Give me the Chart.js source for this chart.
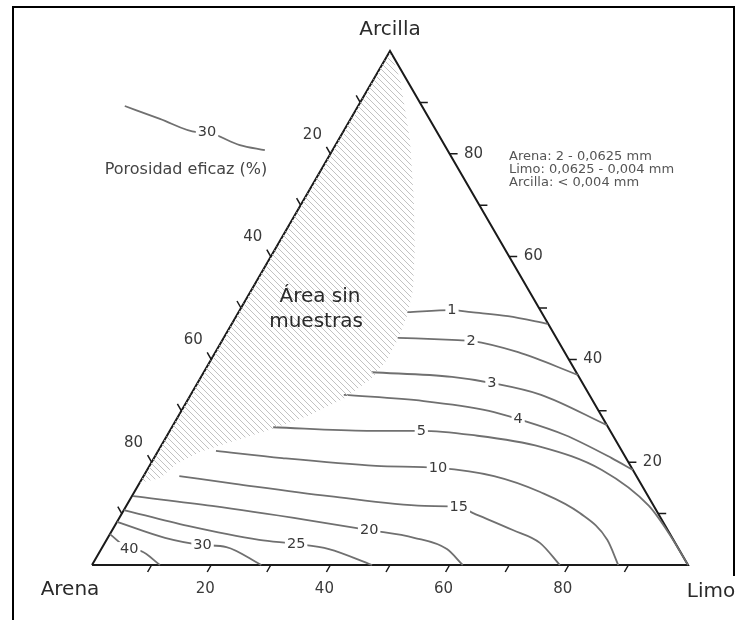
<!DOCTYPE html>
<html>
<head>
<meta charset="utf-8">
<script src="https://cdn.jsdelivr.net/npm/chart.js@4.4.0/dist/chart.umd.min.js"></script>
<style>
  body { margin: 0; background: #fff; }
  canvas { display: block; }
</style>
</head>
<body>
<canvas id="grafico" width="738" height="620"></canvas>
<script>
// puntos de cada isolinea en % [limo, arcilla] (arena = 100 - limo - arcilla)
const niveles = [1, 2, 3, 4, 5, 10, 15, 20, 25, 30, 40]
const curva1 = [[28.3, 49.2], [35.6, 49.6], [39.0, 49.2], [45.6, 48.4], [53.0, 46.9]]
const curva2 = [[29.2, 44.2], [38.5, 43.8], [41.8, 43.6], [50.8, 41.4], [63.0, 37.0]]
const curva3 = [[28.2, 37.5], [42.1, 36.6], [49.4, 35.4], [58.8, 33.1], [72.8, 27.2]]
const curva4 = [[25.7, 33.1], [39.7, 31.9], [51.6, 30.0], [57.3, 28.4], [66.7, 25.3], [76.8, 20.8], [81.5, 18.5]]
const curva5 = [[17.0, 26.8], [33.1, 26.1], [42.2, 26.1], [51.0, 25.3], [63.8, 23.0], [76.3, 18.5], [87.7, 11.5], [94.1, 5.8], [100, 0]]
const curva10 = [[9.7, 22.2], [21.5, 20.8], [38.0, 19.3], [48.6, 18.9], [58.8, 17.3], [68.1, 14.2], [76.8, 10.1], [84.0, 4.9], [88.3, 0]]
const curva15 = [[6.0, 17.3], [16.1, 15.8], [33.1, 13.4], [50.0, 11.5], [55.9, 11.3], [58.9, 10.1], [67.2, 6.8], [73.0, 4.3], [78.5, 0]]
const curva20 = [[0.2, 13.4], [14.4, 11.5], [31.5, 8.8], [43.1, 6.8], [51.4, 5.3], [58.0, 3.1], [62.2, 0]]
const curva25 = [[0, 10.7], [12.3, 7.6], [25.6, 4.9], [32.2, 4.1], [38.2, 3.1], [47.0, 0]]
const curva30 = [[0, 8.4], [9.6, 5.3], [16.6, 3.9], [20.8, 3.5], [28.4, 0]]
const curva40 = [[0, 6.0], [4.7, 3.1], [6.9, 2.7], [11.4, 0]]
const curvas = [curva1, curva2, curva3, curva4, curva5, curva10, curva15, curva20, curva25, curva30, curva40]
const posEtiqueta = [1, 2, 2, 3, 2, 3, 4, 3, 3, 2, 1]

// zona rayada sin muestras, % [limo, arcilla]
const zonaSinMuestras = [[0, 100], [4.5, 94.4], [12.0, 82.7], [18.5, 71.0], [23.5, 61.3], [27.1, 53.5], [28.6, 48.6],
  [29.4, 43.8], [29.5, 39.9], [28.8, 36.4], [26.2, 32.5], [22.0, 29.2], [16.7, 26.3], [11.2, 23.9], [7.1, 22.0],
  [4.2, 19.5], [3.0, 16.9], [0, 16.0], [0, 100]]

// curva de ejemplo de la leyenda (coordenadas del plano)
const leyendaX = [5.5, 11.4, 17.6, 19.3, 24.8, 29.0]
const leyendaY = [89.3, 86.8, 84.2, 84.1, 81.7, 80.7]
const leyendaValor = 30

const vertices = [[0, 0], [100, 0], [0, 100], [0, 0]]
const marcas = [10, 20, 30, 40, 50, 60, 70, 80, 90]
const etiquetasEje = [20, 40, 60, 80]
const textoFracciones = ['Arena: 2 - 0,0625 mm', 'Limo: 0,0625 - 0,004 mm', 'Arcilla: < 0,004 mm']

function aPlano(p) {
  return { x: p[0] + p[1] / 2, y: p[1] }
}

function crearTrama() {
  const n = 6
  const c = document.createElement('canvas')
  c.width = n
  c.height = n
  const g = c.getContext('2d')
  g.strokeStyle = '#c2c2c2'
  g.lineWidth = 1
  g.beginPath()
  g.moveTo(-1, -1); g.lineTo(n + 1, n + 1)
  g.moveTo(-1, n - 1); g.lineTo(1, n + 1)
  g.moveTo(n - 1, -1); g.lineTo(n + 1, 1)
  g.stroke()
  return g.createPattern(c, 'repeat')
}

const FUENTE = '"DejaVu Sans", sans-serif'

const pluginTernario = {
  id: 'ternario',
  beforeDraw(chart) {
    const ctx = chart.ctx
    ctx.save()
    ctx.fillStyle = '#fff'
    ctx.fillRect(0, 0, chart.width, chart.height)
    ctx.strokeStyle = '#000'
    ctx.lineWidth = 2
    ctx.beginPath()
    ctx.moveTo(13, 620); ctx.lineTo(13, 7); ctx.lineTo(734, 7); ctx.lineTo(734, 576)
    ctx.stroke()
    ctx.restore()
  },
  afterDatasetsDraw(chart) {
    const ctx = chart.ctx
    const sx = chart.scales.x, sy = chart.scales.y
    const pix = p => { const q = aPlano(p); return { x: sx.getPixelForValue(q.x), y: sy.getPixelForValue(q.y) } }
    ctx.save()

    // marcas de los ejes
    ctx.strokeStyle = '#1a1a1a'
    ctx.lineWidth = 1.5
    ctx.beginPath()
    marcas.forEach(v => {
      let a = pix([v, 0])
      ctx.moveTo(a.x, a.y); ctx.lineTo(a.x - 4, a.y + 7)
      a = pix([100 - v, v])
      ctx.moveTo(a.x, a.y); ctx.lineTo(a.x + 8, a.y)
      a = pix([0, 100 - v])
      ctx.moveTo(a.x, a.y); ctx.lineTo(a.x - 4, a.y - 7)
    })
    ctx.stroke()

    ctx.fillStyle = '#3a3a3a'
    ctx.font = '15px ' + FUENTE
    ctx.textAlign = 'center'
    ctx.textBaseline = 'middle'
    etiquetasEje.forEach(v => {
      let a = pix([v, 0])
      ctx.fillText(String(v), a.x - 6, a.y + 24)
      a = pix([100 - v, v])
      ctx.fillText(String(v), a.x + 24, a.y)
      a = pix([0, 100 - v])
      ctx.fillText(String(v), a.x - 18, a.y - 19)
    })

    // etiquetas de las isolineas
    ctx.font = '14.5px ' + FUENTE
    const etiqueta = (txt, x, y) => {
      const w = ctx.measureText(txt).width
      ctx.fillStyle = '#fff'
      ctx.fillRect(x - w / 2 - 2, y - 7, w + 4, 14)
      ctx.fillStyle = '#3a3a3a'
      ctx.fillText(txt, x, y)
    }
    curvas.forEach((c, i) => {
      const a = pix(c[posEtiqueta[i]])
      etiqueta(String(niveles[i]), a.x, a.y)
    })
    etiqueta(String(leyendaValor), sx.getPixelForValue(leyendaX[3]), sy.getPixelForValue(leyendaY[3]))

    // textos
    ctx.fillStyle = '#2a2a2a'
    ctx.font = '20px ' + FUENTE
    const ar = pix([0, 100]), ae = pix([0, 0]), li = pix([100, 0])
    ctx.fillText('Arcilla', ar.x, ar.y - 21)
    ctx.fillText('Arena', ae.x - 22, ae.y + 25)
    ctx.fillText('Limo', li.x + 23, li.y + 27)
    ctx.fillText('Área sin', 320, 297)
    ctx.fillText('muestras', 316, 322)

    ctx.fillStyle = '#444'
    ctx.font = '16px ' + FUENTE
    ctx.fillText('Porosidad eficaz (%)', 186, 170)

    ctx.fillStyle = '#555'
    ctx.font = '13px ' + FUENTE
    ctx.textAlign = 'left'
    textoFracciones.forEach((t, i) => ctx.fillText(t, 509, 157 + i * 13))
    ctx.restore()
  }
}

const datasets = []
datasets.push({
  data: zonaSinMuestras.map(aPlano),
  showLine: true,
  fill: 'shape',
  backgroundColor: crearTrama(),
  borderWidth: 0,
  borderColor: 'rgba(0,0,0,0)',
  tension: 0,
  clip: false
})
curvas.forEach(c => {
  datasets.push({
    data: c.map(aPlano),
    showLine: true,
    borderColor: '#707070',
    borderWidth: 1.8,
    cubicInterpolationMode: 'monotone',
    fill: false,
    clip: false
  })
})
datasets.push({
  data: leyendaX.map((x, i) => ({ x: x, y: leyendaY[i] })),
  showLine: true,
  borderColor: '#707070',
  borderWidth: 1.8,
  cubicInterpolationMode: 'monotone',
  fill: false,
  clip: false
})
datasets.push({
  data: vertices.map(aPlano),
  showLine: true,
  borderColor: '#1a1a1a',
  borderWidth: 2,
  tension: 0,
  fill: false,
  clip: false
})

new Chart(document.getElementById('grafico'), {
  type: 'scatter',
  data: { datasets: datasets },
  options: {
    responsive: false,
    animation: false,
    layout: { padding: { left: 92, right: 50, top: 51, bottom: 55 } },
    scales: {
      x: { type: 'linear', min: 0, max: 100, display: false },
      y: { type: 'linear', min: 0, max: 100, display: false }
    },
    elements: { point: { radius: 0, hoverRadius: 0 } },
    plugins: { legend: { display: false }, tooltip: { enabled: false } }
  },
  plugins: [pluginTernario]
})
</script>
</body>
</html>
